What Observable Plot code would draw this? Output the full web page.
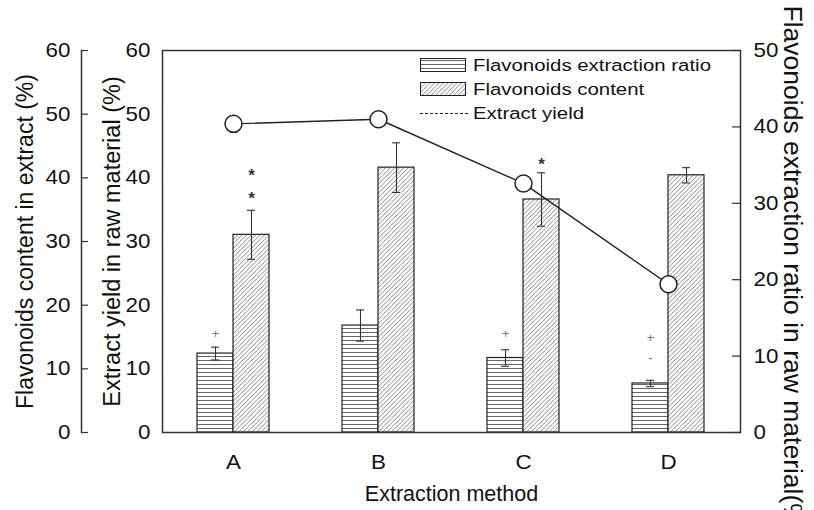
<!DOCTYPE html>
<html><head><meta charset="utf-8">
<script src="https://cdn.jsdelivr.net/npm/d3@7"></script>
<script src="https://cdn.jsdelivr.net/npm/@observablehq/plot@0.6"></script>
<style>body{margin:0;background:#fff} #chart{width:814px;height:510px}</style>
</head><body><div id="chart"></div>
<script>
// ---- data ----
const categories = ["A", "B", "C", "D"];
const ratioValues = [12.4, 16.8, 11.7, 7.7];      // horizontal-hatched bars (left scale units)
const ratioErrors = [1.0, 2.45, 1.3, 0.5];
const contentValues = [31.05, 41.6, 36.6, 40.4];  // diagonal-hatched bars
const contentErrors = [3.85, 3.9, 4.2, 1.2];
const yieldValues = [40.4, 41.0, 32.6, 19.4];     // line, right axis units (0-50)
const leftTicks = [0, 10, 20, 30, 40, 50, 60];
const rightTicks = [0, 10, 20, 30, 40, 50];
const annCats = ["A", "A", "C", "A", "C", "D", "D"];
const annSeries = ["content", "content", "content", "ratio", "ratio", "ratio", "ratio"];
const annY = [41.2, 37.5, 42.9, 15.5, 15.5, 14.9, 11.8];
const annLabels = ["*", "*", "*", "+", "+", "+", "-"];
const legendLabels = ["Flavonoids extraction ratio", "Flavonoids content", "Extract yield"];
const titleOuterLeft = "Flavonoids content in extract (%)";
const titleInnerLeft = "Extract yield in raw material (%)";
const titleRight = "Flavonoids extraction ratio in raw material(%)";
const titleX = "Extraction method";

const leftMax = 60, rightMax = 50;
const toLeft = v => v * leftMax / rightMax;

const rows = categories.map((c, i) => ({
  cat: c, ratio: ratioValues[i], ratioErr: ratioErrors[i],
  content: contentValues[i], contentErr: contentErrors[i], yield: yieldValues[i]
}));
const anns = annCats.map((c, i) => ({cat: c, series: annSeries[i], y: annY[i], label: annLabels[i]}));

const FONT = "'Liberation Sans', Arial, sans-serif";
const NS = "http://www.w3.org/2000/svg";
function el(tag, attrs = {}, text) {
  const e = document.createElementNS(NS, tag);
  for (const [k, v] of Object.entries(attrs)) e.setAttribute(k, v);
  if (text != null) e.textContent = text;
  return e;
}
function defsMark() {
  const d = el("defs");
  const hl = el("pattern", {id: "hl", patternUnits: "userSpaceOnUse", width: 8, height: 4});
  hl.appendChild(el("rect", {width: 8, height: 4, fill: "#fff"}));
  hl.appendChild(el("line", {x1: 0, y1: 0.5, x2: 8, y2: 0.5, stroke: "#666", "stroke-width": 1}));
  const dg = el("pattern", {id: "dg", patternUnits: "userSpaceOnUse", width: 4.5, height: 4.5});
  dg.appendChild(el("rect", {width: 4.5, height: 4.5, fill: "#fff"}));
  dg.appendChild(el("path", {d: "M0,4.5 L4.5,0 M-1,1 L1,-1 M3.5,5.5 L5.5,3.5", stroke: "#777", "stroke-width": 0.9}));
  d.appendChild(hl); d.appendChild(dg);
  return d;
}
function legendMark() {
  const g = el("g", {"font-family": FONT, "font-size": 17, fill: "#111"});
  g.appendChild(el("rect", {x: 420.5, y: 58.5, width: 45, height: 13, fill: "url(#hl)", stroke: "#222", "stroke-width": 1}));
  g.appendChild(el("rect", {x: 420.5, y: 82.5, width: 45, height: 13, fill: "url(#dg)", stroke: "#222", "stroke-width": 1}));
  g.appendChild(el("line", {x1: 420, y1: 113.5, x2: 468, y2: 113.5, stroke: "#222", "stroke-width": 1, "stroke-dasharray": "3,2"}));
  [65, 89, 113].forEach((y, i) => {
    g.appendChild(el("text", {transform: `translate(473,${y}) scale(1.2,1)`, dy: "0.35em", "text-anchor": "start"}, legendLabels[i]));
  });
  return g;
}

const chart = Plot.plot({
  width: 814, height: 510,
  marginLeft: 162, marginRight: 74, marginTop: 50, marginBottom: 78,
  style: {fontFamily: FONT, fontSize: "20px", color: "#111", background: "#fff"},
  x: {type: "band", domain: categories, paddingInner: 0.503, paddingOuter: 0.24},
  y: {domain: [0, leftMax]},
  marks: [
    defsMark,
    Plot.barY(rows, {x: "cat", y: "ratio", insetRight: 36, fill: "url(#hl)", stroke: "#222", strokeWidth: 1.2}),
    Plot.barY(rows, {x: "cat", y: "content", insetLeft: 36, fill: "url(#dg)", stroke: "#222", strokeWidth: 1.2}),
    Plot.ruleX(rows, {x: "cat", y1: d => d.ratio - d.ratioErr, y2: d => d.ratio + d.ratioErr, dx: -18, stroke: "#333", strokeWidth: 1.1}),
    Plot.tickY(rows, {x: "cat", y: d => d.ratio + d.ratioErr, insetLeft: 14, insetRight: 50, stroke: "#333", strokeWidth: 1.1}),
    Plot.tickY(rows, {x: "cat", y: d => d.ratio - d.ratioErr, insetLeft: 14, insetRight: 50, stroke: "#333", strokeWidth: 1.1}),
    Plot.ruleX(rows, {x: "cat", y1: d => d.content - d.contentErr, y2: d => d.content + d.contentErr, dx: 18, stroke: "#333", strokeWidth: 1.1}),
    Plot.tickY(rows, {x: "cat", y: d => d.content + d.contentErr, insetLeft: 50, insetRight: 14, stroke: "#333", strokeWidth: 1.1}),
    Plot.tickY(rows, {x: "cat", y: d => d.content - d.contentErr, insetLeft: 50, insetRight: 14, stroke: "#333", strokeWidth: 1.1}),
    Plot.text(anns.filter(d => d.series === "content"), {x: "cat", y: "y", text: "label", dx: 18, dy: 5, fontSize: 17, fontWeight: "bold", fill: "#333"}),
    Plot.text(anns.filter(d => d.series === "ratio"), {x: "cat", y: "y", text: "label", dx: -18, fontSize: 13, fill: "#777"}),
    Plot.line(rows, {x: "cat", y: d => toLeft(d.yield), stroke: "#222", strokeWidth: 1.4}),
    Plot.dot(rows, {x: "cat", y: d => toLeft(d.yield), r: 8.5, fill: "#fff", stroke: "#222", strokeWidth: 1.5}),
    Plot.frame({stroke: "#333", strokeWidth: 1.5}),
    Plot.frame({anchor: "left", dx: -81, stroke: "#333", strokeWidth: 1.5}),
    Plot.axisY(leftTicks, {anchor: "left", dx: -81, tickSize: -7, tickPadding: 18, label: null, stroke: "#333", strokeWidth: 1.2}),
    Plot.axisY(leftTicks, {anchor: "left", tickSize: 0, tickPadding: 12, label: null}),
    Plot.axisY(rightTicks.map(toLeft), {anchor: "right", tickSize: -9, tickPadding: 22, label: null, tickFormat: d => Math.round(d * rightMax / leftMax), stroke: "#333", strokeWidth: 1.2}),
    Plot.axisX({tickSize: 0, tickPadding: 22, fontSize: 20, label: null}),
    Plot.text([titleOuterLeft], {text: d => d, frameAnchor: "left", textAnchor: "middle", dx: -137, rotate: -90, fontSize: 23, fill: "#111"}),
    Plot.text([titleInnerLeft], {text: d => d, frameAnchor: "left", textAnchor: "middle", dx: -50, rotate: -90, fontSize: 23.5, fill: "#111"}),
    Plot.text([titleRight], {text: d => d, frameAnchor: "top-right", dx: 62, dy: -45, rotate: 90, textAnchor: "start", fontSize: 26.5, fill: "#111"}),
    Plot.text([titleX], {text: d => d, frameAnchor: "bottom", dy: 68, fontSize: 21.5, fill: "#111"}),
    legendMark
  ]
});
// widen tick labels horizontally as in the reference
d3.select(chart).selectAll("g[aria-label='y-axis tick label'] text, g[aria-label='x-axis tick label'] text")
  .attr("transform", function() { return (this.getAttribute("transform") || "") + " scale(1.12,1)"; });
document.getElementById("chart").appendChild(chart);
</script>
</body></html>
